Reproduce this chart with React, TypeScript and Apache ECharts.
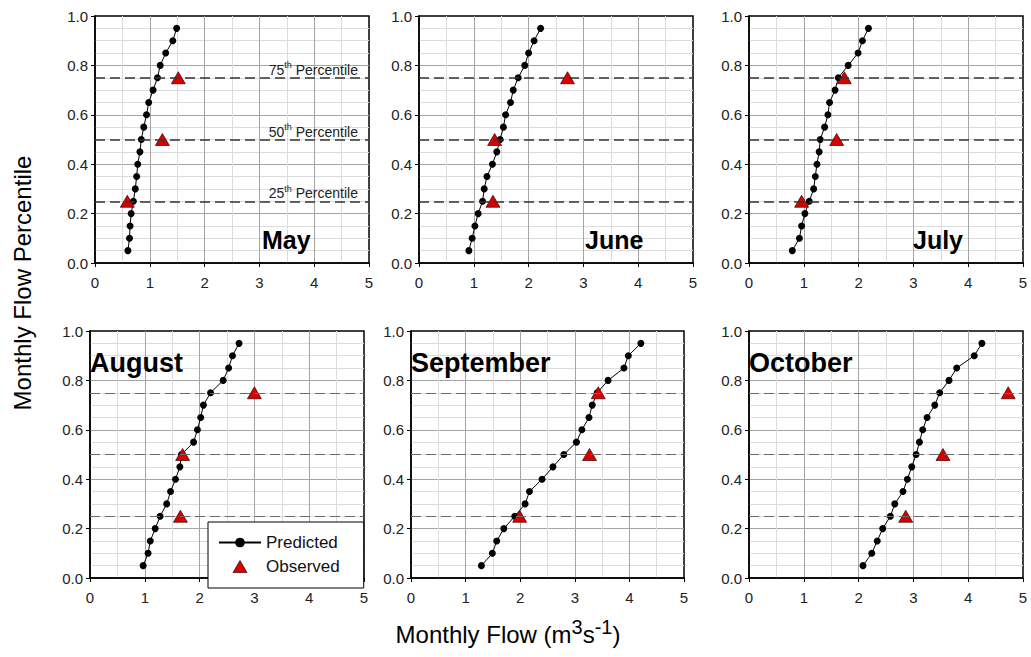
import React, { useEffect, useRef } from "react";
import * as echarts from "echarts";

// ---------- DATA ----------
const months = ["May", "June", "July", "August", "September", "October"];
const percentiles = [0.05, 0.1, 0.15, 0.2, 0.25, 0.3, 0.35, 0.4, 0.45, 0.5, 0.55, 0.6, 0.65, 0.7, 0.75, 0.8, 0.85, 0.9, 0.95];
const observedPercentiles = [0.25, 0.5, 0.75];
const referencePercentiles = [0.25, 0.5, 0.75];
const referenceLabels = ["25", "50", "75"];

const maySim = [0.6, 0.63, 0.64, 0.66, 0.7, 0.735, 0.76, 0.78, 0.82, 0.845, 0.89, 0.94, 0.98, 1.06, 1.14, 1.19, 1.29, 1.42, 1.49];
const mayObs = [0.59, 1.23, 1.52];
const juneSim = [0.91, 0.97, 1.02, 1.08, 1.16, 1.19, 1.24, 1.34, 1.42, 1.48, 1.54, 1.58, 1.67, 1.72, 1.81, 1.93, 2.0, 2.1, 2.22];
const juneObs = [1.35, 1.38, 2.71];
const julySim = [0.79, 0.92, 0.96, 1.02, 1.1, 1.18, 1.21, 1.24, 1.28, 1.3, 1.38, 1.44, 1.47, 1.57, 1.63, 1.81, 1.99, 2.07, 2.18];
const julyObs = [0.96, 1.6, 1.74];
const augSim = [0.97, 1.06, 1.1, 1.19, 1.28, 1.4, 1.47, 1.56, 1.64, 1.67, 1.89, 1.96, 2.02, 2.07, 2.2, 2.43, 2.53, 2.6, 2.72];
const augObs = [1.65, 1.69, 3.0];
const sepSim = [1.29, 1.49, 1.57, 1.7, 1.9, 2.09, 2.17, 2.4, 2.6, 2.8, 3.03, 3.13, 3.26, 3.32, 3.41, 3.61, 3.9, 3.98, 4.21];
const sepObs = [1.99, 3.27, 3.43];
const octSim = [2.08, 2.24, 2.34, 2.44, 2.58, 2.66, 2.81, 2.89, 2.97, 3.05, 3.11, 3.17, 3.25, 3.39, 3.48, 3.65, 3.79, 4.11, 4.25];
const octObs = [2.86, 3.54, 4.73];

const predicted = [maySim, juneSim, julySim, augSim, sepSim, octSim];
const observed = [mayObs, juneObs, julyObs, augObs, sepObs, octObs];

const xTickValues = [0, 1, 2, 3, 4, 5];
const yTickLabels = ["0.0", "0.2", "0.4", "0.6", "0.8", "1.0"];

// ---------- LAYOUT ----------
const FONT = '"Liberation Sans", Arial, Helvetica, sans-serif';
const RED = "#d80000";
const gridRects = [
  { left: 95, top: 16, width: 274, height: 247 },
  { left: 419, top: 16, width: 274, height: 247 },
  { left: 749, top: 16, width: 274, height: 247 },
  { left: 90, top: 331, width: 274, height: 247 },
  { left: 411, top: 331, width: 273, height: 247 },
  { left: 749, top: 331, width: 274, height: 247 },
];
const monthLabelPos = [
  { x: 262, y: 240, size: 25 },
  { x: 585, y: 240, size: 25 },
  { x: 913, y: 240, size: 25 },
  { x: 90, y: 363, size: 27 },
  { x: 411, y: 363, size: 27 },
  { x: 749, y: 363, size: 27 },
];

export default function App() {
  const ref = useRef<HTMLDivElement>(null);

  useEffect(() => {
    if (!ref.current) return;
    const chart = echarts.init(ref.current, undefined, { renderer: "svg" });

    const grids = gridRects.map((g) => ({
      ...g,
      show: true,
      borderColor: "#000",
      borderWidth: 1.5,
      backgroundColor: "#fff",
      containLabel: false,
    }));

    const xAxes = gridRects.map((_, i) => ({
      type: "value",
      gridIndex: i,
      min: xTickValues[0],
      max: xTickValues[xTickValues.length - 1],
      interval: 1,
      axisLine: { show: true, onZero: false, lineStyle: { color: "#000", width: 1.5 } },
      axisTick: { show: true, length: 4, lineStyle: { color: "#000", width: 1 } },
      axisLabel: { fontSize: 15, color: "#222", margin: 12, fontFamily: FONT },
      splitLine: { show: true, showMinLine: false, showMaxLine: false, lineStyle: { color: "#a4a4a4", width: 1 } },
      minorTick: { show: false, splitNumber: 2 },
      minorSplitLine: { show: true, lineStyle: { color: "#dcdcdc", width: 1 } },
    }));

    const yAxes = gridRects.map((_, i) => ({
      type: "value",
      gridIndex: i,
      min: 0,
      max: 1,
      interval: 0.2,
      axisLine: { show: true, onZero: false, lineStyle: { color: "#000", width: 1.5 } },
      axisTick: { show: true, length: 4, lineStyle: { color: "#000", width: 1 } },
      axisLabel: {
        fontSize: 15,
        color: "#222",
        margin: 7,
        fontFamily: FONT,
        formatter: (v: number) => yTickLabels[Math.round(v / 0.2)] ?? v.toFixed(1),
      },
      splitLine: { show: true, showMinLine: false, showMaxLine: false, lineStyle: { color: "#a4a4a4", width: 1 } },
      minorTick: { show: false, splitNumber: 4 },
      minorSplitLine: { show: true, lineStyle: { color: "#dcdcdc", width: 1 } },
    }));

    const series: any[] = [];
    predicted.forEach((sim, i) => {
      const top = i < 3;
      series.push({
        name: "Predicted",
        type: "line",
        xAxisIndex: i,
        yAxisIndex: i,
        data: sim.map((x, j) => [x, percentiles[j]]),
        symbol: "circle",
        symbolSize: 7,
        showSymbol: true,
        itemStyle: { color: "#000" },
        lineStyle: { color: "#000", width: 1 },
        z: 3,
        markLine: {
          silent: true,
          symbol: ["none", "none"],
          animation: false,
          lineStyle: {
            color: top ? "#333" : "#6a6a6a",
            width: top ? 1.6 : 1.1,
            type: [10, 5],
          },
          label: { show: false },
          emphasis: { disabled: true },
          data: referencePercentiles.map((p, k) => ({
            yAxis: p,
            label:
              i === 0
                ? {
                    show: true,
                    position: "insideEndTop",
                    distance: [11, 1],
                    formatter: () => `{num|${referenceLabels[k]}}{sup|th}{txt| Percentile}`,
                    rich: {
                      num: { fontSize: 14, lineHeight: 16, color: "#222", fontFamily: FONT, verticalAlign: "bottom" },
                      sup: { fontSize: 9, lineHeight: 12, color: "#222", fontFamily: FONT, verticalAlign: "top" },
                      txt: { fontSize: 14, lineHeight: 16, color: "#222", fontFamily: FONT, verticalAlign: "bottom" },
                    },
                  }
                : { show: false },
          })),
        },
      });
      series.push({
        name: "Observed",
        type: "scatter",
        xAxisIndex: i,
        yAxisIndex: i,
        data: observed[i].map((x, j) => [x, observedPercentiles[j]]),
        symbol: "triangle",
        symbolSize: [14, 12],
        itemStyle: { color: RED, opacity: 1, borderColor: "#3a0000", borderWidth: 0.7 },
        z: 4,
      });
    });

    const graphics: any[] = monthLabelPos.map((p, i) => ({
      type: "text",
      x: p.x,
      y: p.y,
      z: 10,
      style: {
        text: months[i],
        fontSize: p.size,
        fontWeight: "bold",
        fontFamily: FONT,
        fill: "#000",
        textAlign: "left",
        textVerticalAlign: "middle",
      },
    }));
    graphics.push({
      type: "text",
      x: 22,
      y: 283,
      rotation: Math.PI / 2,
      style: {
        text: "Monthly Flow Percentile",
        fontSize: 24,
        fontFamily: FONT,
        fill: "#000",
        textAlign: "center",
        textVerticalAlign: "middle",
      },
    });
    graphics.push({
      type: "text",
      x: 508,
      y: 634,
      style: {
        text: "{n|Monthly Flow (m}{s|3}{n|s}{s|-1}{n|)}",
        textAlign: "center",
        textVerticalAlign: "middle",
        rich: {
          n: { fontSize: 24, lineHeight: 34, fontFamily: FONT, fill: "#000", verticalAlign: "middle" },
          s: { fontSize: 20, lineHeight: 20, fontFamily: FONT, fill: "#000", verticalAlign: "top" },
        },
      },
    });

    chart.setOption({
      animation: false,
      backgroundColor: "#fff",
      grid: grids,
      xAxis: xAxes,
      yAxis: yAxes,
      series,
      legend: {
        data: [
          { name: "Predicted" },
          {
            name: "Observed",
            icon: "path://M7,0L14,12L0,12Z",
            itemStyle: { color: RED, opacity: 1, borderColor: "#3a0000", borderWidth: 0.7 },
          },
        ],
        orient: "vertical",
        left: 208,
        top: 522,
        itemWidth: 42,
        itemHeight: 12,
        itemGap: 7,
        symbolKeepAspect: true,
        padding: [12, 24, 13, 10],
        borderColor: "#000",
        borderWidth: 1,
        borderRadius: 0,
        backgroundColor: "#fff",
        selectedMode: false,
        textStyle: { fontSize: 17, color: "#111", fontFamily: FONT },
        z: 20,
      },
      graphic: graphics,
    });

    return () => chart.dispose();
  }, []);

  return (
    <div
      ref={ref}
      style={{ position: "fixed", left: 0, top: 0, width: 1031, height: 657, background: "#fff" }}
    />
  );
}
